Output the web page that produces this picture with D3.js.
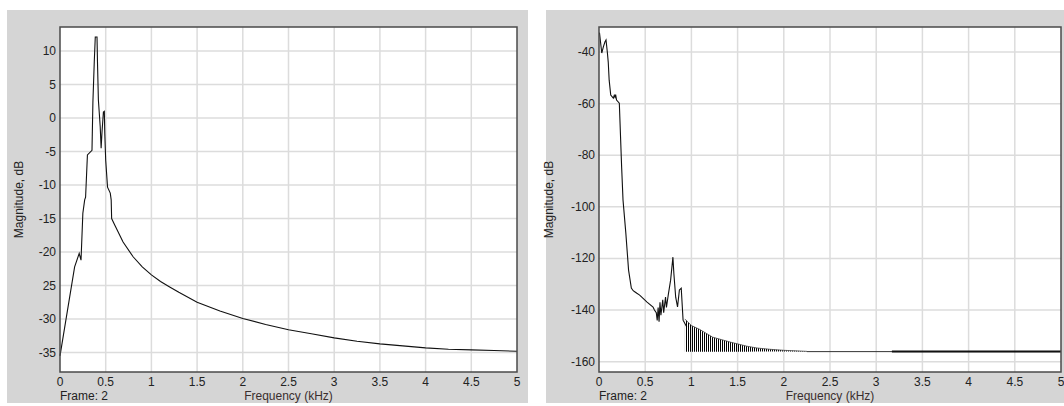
<!DOCTYPE html>
<meta charset="utf-8">
<script src="https://cdn.jsdelivr.net/npm/d3@7"></script>
<style>
  body { margin: 0; background: #fff; }
  text { font-family: "Liberation Sans", Arial, sans-serif; font-size: 12px; fill: #222; }
</style>
<div id="vis"></div>
<script>
// x ticks shared by both panels
const xTicks = [0, 0.5, 1, 1.5, 2, 2.5, 3, 3.5, 4, 4.5, 5]
const xTickLabels = ["0", "0.5", "1", "1.5", "2", "2.5", "3", "3.5", "4", "4.5", "5"]

// left panel
const leftYTicks = [10, 5, 0, -5, -10, -15, -20, -25, -30, -35]
const leftYTickLabels = ["10", "5", "0", "-5", "-10", "-15", "-20", "25", "-30", "-35"]
const leftFreq = [0, 0.16, 0.21, 0.23, 0.25, 0.27, 0.28, 0.3, 0.35, 0.36, 0.375, 0.386, 0.405, 0.41,
  0.42, 0.44, 0.45, 0.46, 0.475, 0.485, 0.49, 0.5, 0.52, 0.55, 0.56, 0.565, 0.6, 0.69, 0.8, 0.9,
  1.0, 1.1, 1.2, 1.3, 1.5, 1.75, 2.0, 2.25, 2.5, 2.75, 3.0, 3.25, 3.5, 3.75, 4.0, 4.25, 4.5, 4.75, 5.0]
const leftMag = [-35.5, -22.2, -20.2, -21.2, -14.2, -12.2, -11.8, -5.5, -4.8, 2.4, 8.4, 12.1, 12.1, 8.4,
  2.7, -1.3, -4.5, -2, 0.9, 1, -2.3, -6.3, -10.3, -11.2, -12.2, -15, -16, -18.5, -20.7, -22.2,
  -23.4, -24.4, -25.2, -26, -27.5, -28.8, -29.9, -30.8, -31.6, -32.2, -32.8, -33.3, -33.7, -34, -34.3, -34.5, -34.6, -34.7, -34.8]

// right panel
const rightYTicks = [-40, -60, -80, -100, -120, -140, -160]
const rightYTickLabels = ["-40", "-60", "-80", "-100", "-120", "-140", "-160"]
const rightFreq = [0.005, 0.03, 0.047, 0.065, 0.076, 0.09, 0.1, 0.11, 0.127, 0.155, 0.165, 0.173, 0.18,
  0.19, 0.22, 0.245, 0.26, 0.29, 0.32, 0.35, 0.37, 0.39, 0.41, 0.44, 0.52, 0.585, 0.6, 0.62, 0.63,
  0.64, 0.65, 0.66, 0.67, 0.69, 0.7, 0.72, 0.73, 0.75, 0.775, 0.8, 0.81, 0.83, 0.85, 0.87, 0.89,
  0.91, 0.95]
const rightMag = [-32.5, -40.4, -38, -36, -35.3, -40, -43.9, -50.9, -56.7, -57.9, -56.8, -57.5, -56.5,
  -58.6, -59.8, -84.6, -97.4, -110, -124.5, -131.5, -132.5, -133, -133.5, -134.2, -136.9, -138.8, -140, -141, -144,
  -139, -144.5, -137, -142, -136, -141, -135, -139, -134, -128.4, -119.5, -125.7, -135, -138.8, -132.2, -131.5,
  -143.9, -146.6]
// ripple band (envelope of the fast oscillation)
const bandFreq = [0.93, 1.0, 1.09, 1.23, 1.42, 1.6, 1.71, 1.85, 2.0, 2.25]
const bandTop = [-143.5, -146, -147.5, -150.5, -152.4, -154, -154.7, -155.2, -155.6, -156]
const bandBottom = [-156.2, -156.2, -156.2, -156.2, -156.2, -156.2, -156.1, -156.1, -156.1, -156.1]
// flat tail, drawn heavier from 3.17 kHz
const tailFreq = [2.25, 5]
const tailMag = [-156.1, -156.1]
const heavyFreq = [3.17, 5]
const heavyMag = [-156.1, -156.1]

const svg = d3.select("#vis").append("svg").attr("width", 1064).attr("height", 406)

const defs = svg.append("defs")
const pat = defs.append("pattern").attr("id", "ripple").attr("patternUnits", "userSpaceOnUse")
  .attr("width", 2).attr("height", 10)
pat.append("rect").attr("x", 0).attr("y", 0).attr("width", 1).attr("height", 10).attr("fill", "#000")

function panel(cfg) {
  const g = svg.append("g")
  g.append("rect").attr("x", cfg.bx0).attr("y", 10).attr("width", cfg.bx1 - cfg.bx0).attr("height", 393)
    .attr("fill", "#d5d5d5")
  const x = d3.scaleLinear().domain([0, 5]).range([cfg.l, cfg.r])
  const y = d3.scaleLinear().domain(cfg.yDomain).range([cfg.b, cfg.t])
  g.append("rect").attr("x", cfg.l).attr("y", cfg.t).attr("width", cfg.r - cfg.l).attr("height", cfg.b - cfg.t)
    .attr("fill", "#fff")
  // grid
  g.selectAll(".vg").data(xTicks.slice(1, -1)).enter().append("line")
    .attr("x1", d => x(d)).attr("x2", d => x(d)).attr("y1", cfg.t).attr("y2", cfg.b)
    .attr("stroke", "#dcdcdc").attr("stroke-width", 1.5)
  g.selectAll(".hg").data(cfg.yTicks).enter().append("line")
    .attr("x1", cfg.l).attr("x2", cfg.r).attr("y1", d => y(d)).attr("y2", d => y(d))
    .attr("stroke", "#dcdcdc").attr("stroke-width", 1.5)
  // tick labels
  g.selectAll(".xl").data(xTicks).enter().append("text")
    .attr("x", d => x(d)).attr("y", 386).attr("text-anchor", "middle")
    .text((d, i) => xTickLabels[i])
  g.selectAll(".yl").data(cfg.yTicks).enter().append("text")
    .attr("x", cfg.l - 4).attr("y", d => y(d) + 4).attr("text-anchor", "end")
    .text((d, i) => cfg.yLabels[i])
  g.append("text").attr("transform", `translate(${cfg.ylx},${(cfg.t + cfg.b) / 2}) rotate(-90)`)
    .attr("text-anchor", "middle").text("Magnitude, dB")
  g.append("text").attr("x", cfg.l).attr("y", 400).text("Frame: 2")
  g.append("text").attr("x", (cfg.l + cfg.r) / 2).attr("y", 400).attr("text-anchor", "middle")
    .style("fill", "#3a2e2e").text("Frequency (kHz)")

  const line = d3.line().x(d => x(d[0])).y(d => y(d[1]))
  cfg.draw(g, x, y, line)

  g.append("rect").attr("x", cfg.l).attr("y", cfg.t).attr("width", cfg.r - cfg.l).attr("height", cfg.b - cfg.t)
    .attr("fill", "none").attr("stroke", "#4a4a4a").attr("stroke-width", 1.5)
}

panel({
  bx0: 7, bx1: 528, l: 60, r: 517, t: 27, b: 372, yDomain: [-37.9, 13.6], ylx: 23,
  yTicks: leftYTicks, yLabels: leftYTickLabels,
  draw: (g, x, y, line) => {
    g.append("path").datum(d3.zip(leftFreq, leftMag)).attr("d", line)
      .attr("fill", "none").attr("stroke", "#111").attr("stroke-width", 1.1)
  }
})

panel({
  bx0: 546, bx1: 1064, l: 599, r: 1061, t: 27, b: 372, yDomain: [-164, -30.3], ylx: 553,
  yTicks: rightYTicks, yLabels: rightYTickLabels,
  draw: (g, x, y, line) => {
    g.append("path").datum(d3.zip(rightFreq, rightMag)).attr("d", line)
      .attr("fill", "none").attr("stroke", "#111").attr("stroke-width", 1.1)
    const area = d3.area().x(d => x(d[0])).y0(d => y(d[2])).y1(d => y(d[1]))
    g.append("path").datum(d3.zip(bandFreq, bandTop, bandBottom)).attr("d", area)
      .attr("fill", "url(#ripple)")
    g.append("path").datum(d3.zip(bandFreq, bandTop)).attr("d", line)
      .attr("fill", "none").attr("stroke", "#444").attr("stroke-width", 0.8)
    g.append("path").datum(d3.zip(tailFreq, tailMag)).attr("d", line)
      .attr("fill", "none").attr("stroke", "#333").attr("stroke-width", 1)
    g.append("path").datum(d3.zip(heavyFreq, heavyMag)).attr("d", line)
      .attr("fill", "none").attr("stroke", "#111").attr("stroke-width", 2)
  }
})
</script>
